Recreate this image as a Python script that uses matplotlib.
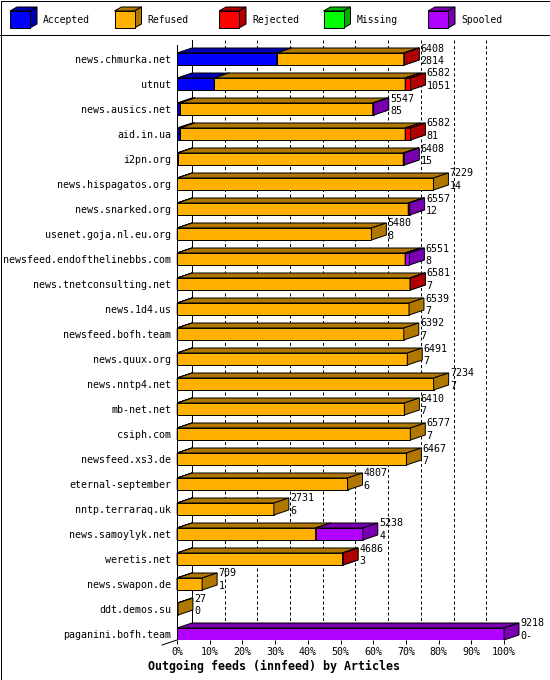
import numpy as np
import matplotlib
matplotlib.use('Agg')
from matplotlib import pyplot as plt
from matplotlib.patches import Polygon, Rectangle

plt.rcParams['font.family'] = 'DejaVu Sans Mono'

hosts = ['news.chmurka.net', 'utnut', 'news.ausics.net', 'aid.in.ua', 'i2pn.org',
         'news.hispagatos.org', 'news.snarked.org', 'usenet.goja.nl.eu.org',
         'newsfeed.endofthelinebbs.com', 'news.tnetconsulting.net', 'news.1d4.us',
         'newsfeed.bofh.team', 'news.quux.org', 'news.nntp4.net', 'mb-net.net',
         'csiph.com', 'newsfeed.xs3.de', 'eternal-september', 'nntp.terraraq.uk',
         'news.samoylyk.net', 'weretis.net', 'news.swapon.de', 'ddt.demos.su',
         'paganini.bofh.team']
offered = [6408, 6582, 5547, 6582, 6408, 7229, 6557, 5480, 6551, 6581, 6539, 6392,
           6491, 7234, 6410, 6577, 6467, 4807, 2731, 5238, 4686, 709, 27, 9218]
accepted = [2814, 1051, 85, 81, 15, 14, 12, 8, 8, 7, 7, 7, 7, 7, 7, 7, 7, 6, 6, 4,
            3, 1, 0, 0]
rejected = [15, 150, 0, 150, 0, 0, 0, 0, 0, 15, 0, 0, 0, 0, 0, 0, 0, 0, 0, 0,
            20, 0, 0, 0]
missing = [0] * 24
spooled = [0, 0, 30, 0, 30, 0, 40, 0, 120, 0, 0, 0, 0, 0, 0, 0, 0, 0, 0, 1330,
           0, 0, 0, 9218]
bottom_labels = [str(a) for a in accepted]
bottom_labels[-1] = '0-'

series = ['Accepted', 'Refused', 'Rejected', 'Missing', 'Spooled']
colors = ['#0000ff', '#ffb000', '#ff0000', '#00ff00', '#b000ff']
dark = ['#0000b0', '#b07800', '#b00000', '#00b000', '#7800b0']

offered = np.array(offered, float)
refused = offered - np.array(accepted) - np.array(rejected) - np.array(missing) - np.array(spooled)
segs = np.array([accepted, refused, rejected, missing, spooled], float)
scale = 100.0 / offered.max()
segs_pct = segs * scale

W, H = 550, 680
fig = plt.figure(figsize=(W / 100, H / 100), dpi=100)

# main plot axes: 0%..100% spans 328 px, depth 15 px / 5 px
dx = 15 / 328 * 100
dy = 5 / 25
bh = 0.24
ax = fig.add_axes([177 / W, 40 / H, 342 / W, 600 / H])
ax.set_xlim(0, 100 + dx)
ax.set_ylim(23.24, -0.76)
for s in ax.spines.values():
    s.set_visible(False)

lw = 0.72
# back wall / grid
ax.plot([0, 0], [-0.56, 23.24], color='black', lw=lw, zorder=1)
ax.plot([dx, dx], [-0.76, 23.04], color='black', lw=lw, zorder=1)
ax.plot([100 + dx, 100 + dx], [-0.76, 23.04], color='black', lw=lw, zorder=1)
for k in range(10, 100, 10):
    ax.plot([k + dx, k + dx], [-0.76, 23.04], color='black', lw=lw,
            linestyle=(0, (3, 2.5)), zorder=1)
ax.plot([0, -dx], [23.24, 23.24 + dy], color='black', lw=lw, zorder=1, clip_on=False)

# 3D stacked bars
for i in range(len(hosts)):
    left = 0.0
    top, bot = i - bh, i + bh
    for k in range(len(series)):
        w = segs_pct[k, i]
        if w <= 0:
            continue
        right = left + w
        ax.barh(i, w, left=left, height=2 * bh, color=colors[k], edgecolor='black',
                linewidth=lw, zorder=3)
        ax.add_patch(Polygon([(left, top), (right, top), (right + dx, top - dy),
                              (left + dx, top - dy)], closed=True, facecolor=dark[k],
                             edgecolor='black', linewidth=lw, zorder=3))
        ax.add_patch(Polygon([(right, top), (right + dx, top - dy), (right + dx, bot - dy),
                              (right, bot)], closed=True, facecolor=dark[k],
                             edgecolor='black', linewidth=lw, zorder=3, clip_on=False))
        left = right
    xt = offered[i] * scale + dx + 0.4
    ax.text(xt, i - 0.42, str(int(offered[i])), fontsize=7.2, va='center', ha='left',
            zorder=5, clip_on=False)
    ax.text(xt, i + 0.08, bottom_labels[i], fontsize=7.2, va='center', ha='left',
            zorder=5, clip_on=False)

ax.set_xticks(np.arange(0, 101, 10))
ax.set_xticklabels(['%d%%' % t for t in range(0, 101, 10)], fontsize=7.2)
ax.tick_params(axis='x', direction='out', length=3, width=lw, pad=2)
ax.set_yticks(np.arange(len(hosts)))
ax.set_yticklabels(hosts, fontsize=7.2)
ax.tick_params(axis='y', length=0, pad=4)

fig.text(274 / W, 1 - 666 / H, 'Outgoing feeds (innfeed) by Articles', fontsize=8.4,
         fontweight='bold', ha='center', va='center')

# legend and frame
lax = fig.add_axes([0, 0, 1, 1], zorder=-1)
lax.set_xlim(0, W)
lax.set_ylim(H, 0)
lax.axis('off')
lax.add_patch(Rectangle((0.5, 0.5), W - 1, H - 1, fill=False, edgecolor='black', linewidth=lw))
lax.plot([0, W], [35, 35], color='black', lw=lw)
for k, name in enumerate(series):
    x = 10 + 104.5 * k
    lax.add_patch(Polygon([(x, 11), (x + 20, 11), (x + 27, 7), (x + 7, 7)],
                          facecolor=dark[k], edgecolor='black', linewidth=lw))
    lax.add_patch(Polygon([(x + 20, 11), (x + 27, 7), (x + 27, 24), (x + 20, 28)],
                          facecolor=dark[k], edgecolor='black', linewidth=lw))
    lax.add_patch(Rectangle((x, 11), 20, 17, facecolor=colors[k], edgecolor='black',
                            linewidth=lw))
    lax.text(x + 33, 20, name, fontsize=7, va='center', ha='left')

fig.savefig('out.png', dpi=100)
